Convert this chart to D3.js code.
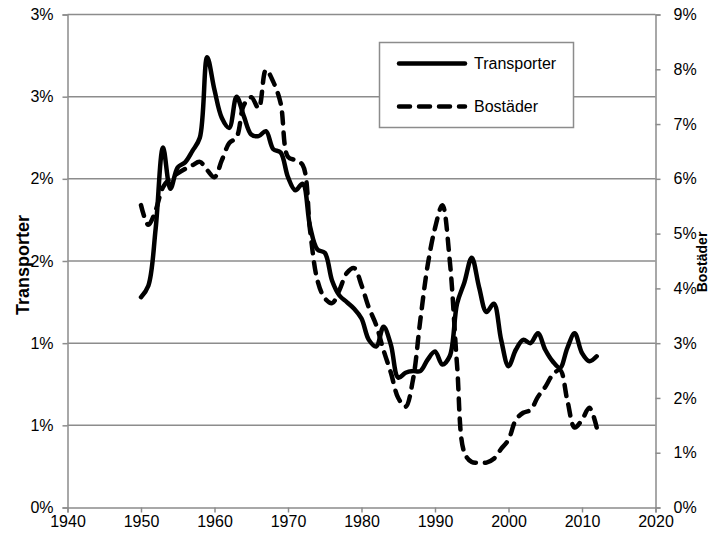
<!DOCTYPE html>
<html>
<head>
<meta charset="utf-8">
<script src="https://cdn.jsdelivr.net/npm/d3@7"></script>
<style>
  body { margin: 0; background: #fff; }
  text { font-family: "Liberation Sans", Arial, sans-serif; fill: #000; }
</style>
</head>
<body>
<div id="chart"></div>
<script>
// Data (share of GDP, %)
var years = d3.range(1950, 2013);
var transporter = [
  1.28, 1.35, 1.70, 2.19, 1.94, 2.07, 2.10, 2.17, 2.25, 2.74,
  2.54, 2.37, 2.31, 2.50, 2.38, 2.27, 2.26, 2.29, 2.18, 2.16,
  2.01, 1.93, 1.97, 1.71, 1.57, 1.55, 1.38, 1.29, 1.25, 1.21,
  1.15, 1.02, 0.98, 1.10, 0.99, 0.79, 0.82, 0.83, 0.83, 0.90,
  0.95, 0.87, 0.92, 1.24, 1.37, 1.52, 1.34, 1.19, 1.24, 1.02,
  0.86, 0.96, 1.02, 1.00, 1.06, 0.96, 0.89, 0.85, 0.97, 1.06,
  0.94, 0.89, 0.92
];
var bostader = [
  5.52, 5.16, 5.43, 5.85, 6.01, 6.10, 6.18, 6.25, 6.31, 6.16,
  6.03, 6.34, 6.65, 6.76, 7.35, 7.49, 7.29, 7.99, 7.77, 7.38,
  6.40, 6.34, 6.25, 5.06, 4.15, 3.82, 3.73, 3.97, 4.28, 4.37,
  4.06, 3.65, 3.33, 2.87, 2.46, 2.00, 1.84, 2.33, 3.42, 4.42,
  5.10, 5.52, 4.52, 2.60, 1.00, 0.83, 0.82, 0.82, 0.89, 1.07,
  1.24, 1.60, 1.73, 1.78, 2.02, 2.20, 2.42, 2.51, 1.96, 1.46,
  1.60, 1.82, 1.46
];
var xTicks = [1940, 1950, 1960, 1970, 1980, 1990, 2000, 2010, 2020];
var leftTicks = [0, 0.5, 1, 1.5, 2, 2.5, 3];
var rightTicks = [0, 1, 2, 3, 4, 5, 6, 7, 8, 9];
var seriesNames = ["Transporter", "Bostäder"];

var svgWidth = 711;
var svgHeight = 533;
var plotLeft = 67.5, plotRight = 655.5, plotTop = 14.5, plotBottom = 507.5;

var svg = d3.select("#chart")
  .append("svg")
  .attr("width", svgWidth)
  .attr("height", svgHeight);

// Scales
var xScale = d3.scaleLinear().domain([1940, 2020]).range([plotLeft, plotRight]);
var yLeft = d3.scaleLinear().domain([0, 3]).range([plotBottom, plotTop]);
var yRight = d3.scaleLinear().domain([0, 9]).range([plotBottom, plotTop]);

// Gridlines
svg.append("g")
  .selectAll("line")
  .data(leftTicks.slice(1))
  .enter()
  .append("line")
  .attr("x1", plotLeft)
  .attr("x2", plotRight)
  .attr("y1", d => yLeft(d))
  .attr("y2", d => yLeft(d))
  .attr("stroke", "#8c8c8c")
  .attr("stroke-width", 1.5);

// Axes
var fmtLeft = d => Math.round(d) + "%";
var bottomAxis = d3.axisBottom(xScale).tickValues(xTicks).tickFormat(d3.format("d")).tickSizeOuter(0).tickSize(5).tickPadding(3);
var leftAxis = d3.axisLeft(yLeft).tickValues(leftTicks).tickFormat(fmtLeft).tickSizeOuter(0).tickSize(5).tickPadding(9);
var rightAxis = d3.axisRight(yRight).tickValues(rightTicks).tickFormat(d => d + "%").tickSizeOuter(0).tickSize(5).tickPadding(13);

var gx = svg.append("g").attr("transform", `translate(0, ${plotBottom})`).call(bottomAxis);
var gl = svg.append("g").attr("transform", `translate(${plotLeft}, 0)`).call(leftAxis);
var gr = svg.append("g").attr("transform", `translate(${plotRight}, 0)`).call(rightAxis);

[gx, gl, gr].forEach(function (g) {
  g.selectAll("path, line").attr("stroke", "#8c8c8c").attr("stroke-width", 1.5);
  g.selectAll("text").attr("font-size", "16px").attr("font-family", null).attr("fill", "#000");
});

// Lines
var solidLine = d3.line()
  .x((d, i) => xScale(years[i]))
  .y(d => yLeft(d))
  .curve(d3.curveCatmullRom.alpha(0.5));

var dashLine = d3.line()
  .x((d, i) => xScale(years[i]))
  .y(d => yRight(d))
  .curve(d3.curveCatmullRom.alpha(0.5));

svg.append("path")
  .datum(bostader)
  .attr("d", dashLine)
  .attr("fill", "none")
  .attr("stroke", "#000")
  .attr("stroke-width", 4.5)
  .attr("stroke-linecap", "round")
  .attr("stroke-dasharray", "11,9");

svg.append("path")
  .datum(transporter)
  .attr("d", solidLine)
  .attr("fill", "none")
  .attr("stroke", "#000")
  .attr("stroke-width", 4.5)
  .attr("stroke-linecap", "round")
  .attr("stroke-linejoin", "round");

// Legend
var legend = svg.append("g");
legend.append("rect")
  .attr("x", 379.5)
  .attr("y", 42.5)
  .attr("width", 194)
  .attr("height", 85)
  .attr("fill", "#fff")
  .attr("stroke", "#8c8c8c")
  .attr("stroke-width", 1.5);

var legendRows = [
  { name: seriesNames[0], y: 63.5, dash: null },
  { name: seriesNames[1], y: 106.5, dash: "11,9" }
];
legendRows.forEach(function (r) {
  legend.append("line")
    .attr("x1", 399).attr("x2", 465)
    .attr("y1", r.y).attr("y2", r.y)
    .attr("stroke", "#000")
    .attr("stroke-width", 4.5)
    .attr("stroke-linecap", "round")
    .attr("stroke-dasharray", r.dash);
  legend.append("text")
    .attr("x", 474)
    .attr("y", r.y)
    .attr("dy", "0.35em")
    .attr("font-size", "16px")
    .text(r.name);
});

// Axis titles
svg.append("text")
  .attr("transform", "translate(29, 265) rotate(-90)")
  .attr("text-anchor", "middle")
  .attr("font-size", "18px")
  .attr("font-weight", "bold")
  .text(seriesNames[0]);

svg.append("text")
  .attr("transform", "translate(707, 262) rotate(-90)")
  .attr("text-anchor", "middle")
  .attr("font-size", "14px")
  .attr("font-weight", "bold")
  .text(seriesNames[1]);
</script>
</body>
</html>
